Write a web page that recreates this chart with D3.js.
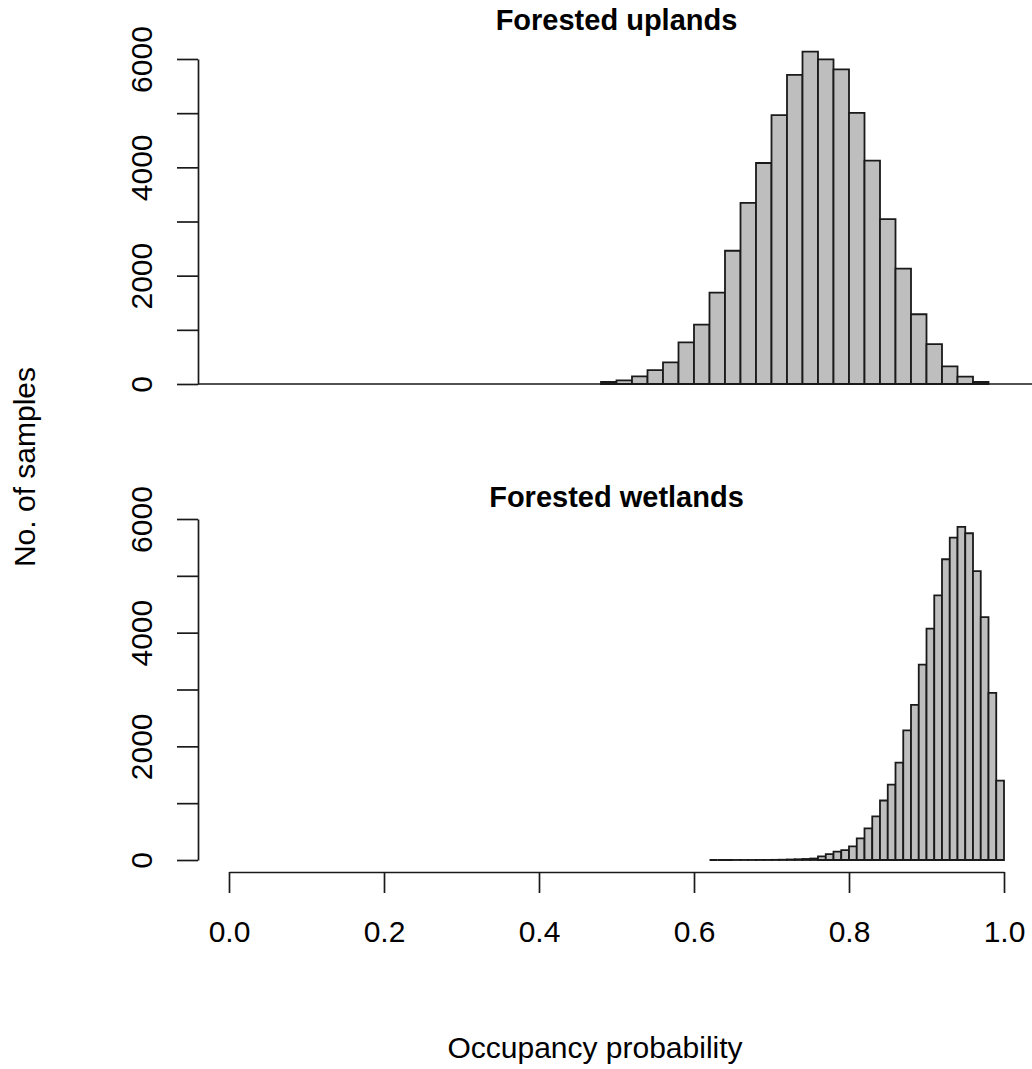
<!DOCTYPE html>
<html>
<head>
<meta charset="utf-8">
<script src="https://cdn.jsdelivr.net/npm/d3@7"></script>
<style>
  body { margin: 0; background: #fff; }
  svg { display: block; font-family: "Liberation Sans", Arial, sans-serif; }
  .axis path, .axis line { stroke: #1a1a1a; stroke-width: 1.7; }
  .axis text { font-size: 30px; fill: #000; }
  .bar { fill: #bebebe; stroke: #1a1a1a; stroke-width: 1.8; }
  .title { font-size: 29px; font-weight: bold; text-anchor: middle; }
  .label { font-size: 30px; text-anchor: middle; }
</style>
</head>
<body>
<svg id="chart" width="1032" height="1069"></svg>
<script>
// Forested uplands: bins of 0.02 from 0.48 to 0.98
const uplandStart = 0.48;
const uplandWidth = 0.02;
const uplandCounts = [37, 67, 141, 258, 399, 767, 1098, 1687, 2460, 3344, 4080, 4963, 5706,
  6135, 5994, 5810, 5006, 4123, 3043, 2129, 1288, 736, 325, 135, 37];

// Forested wetlands: bins of 0.01 from 0.62 to 1.00
const wetlandStart = 0.62;
const wetlandWidth = 0.01;
const wetlandCounts = [0, 0, 0, 1, 1, 1, 2, 2, 3, 5, 9, 13, 18, 26,
  64, 105, 146, 175, 240, 380, 556, 766, 1047, 1327, 1713, 2281, 2731, 3439,
  4070, 4655, 5292, 5673, 5860, 5749, 5082, 4275, 2942, 1398];

const yTicks = [0, 1000, 2000, 3000, 4000, 5000, 6000];
const yLabels = [0, 2000, 4000, 6000];
const xTicks = [0, 0.2, 0.4, 0.6, 0.8, 1.0];

const svg = d3.select("#chart");
const x = d3.scaleLinear().domain([0, 1]).range([229, 1004]);
const axisLeft = 198;

function toBins(start, width, counts) {
  return counts.map((c, i) => ({
    x0: +(start + i * width).toFixed(3),
    x1: +(start + (i + 1) * width).toFixed(3),
    count: c,
  }));
}

function drawPanel(bins, yRange, title, titleY, baseLine) {
  const y = d3.scaleLinear().domain([0, 6000]).range(yRange);
  const g = svg.append("g");

  // horizontal base line (top panel only)
  if (baseLine) {
    g.append("line")
      .attr("x1", axisLeft)
      .attr("x2", 1032)
      .attr("y1", y(0))
      .attr("y2", y(0))
      .attr("stroke", "#1a1a1a")
      .attr("stroke-width", 1.7);
  }

  // bars as closed paths so empty bins still show as a line, like R's rect()
  g.selectAll("path.bar")
    .data(bins)
    .enter()
    .append("path")
    .attr("class", "bar")
    .attr("d", d => {
      const x0 = x(d.x0), x1 = x(d.x1), y0 = y(0), y1 = y(d.count);
      return `M${x0},${y0}H${x1}V${y1}H${x0}Z`;
    });

  // y axis, R style: rotated labels, only some ticks labelled
  const yAxis = g
    .append("g")
    .attr("class", "axis")
    .attr("transform", `translate(${axisLeft},0)`)
    .call(
      d3
        .axisLeft(y)
        .tickValues(yTicks)
        .tickSize(21)
        .tickSizeOuter(0)
        .tickFormat(d => (yLabels.includes(d) ? d : ""))
    );
  yAxis
    .selectAll("text")
    .attr("transform", "rotate(-90)")
    .attr("x", 0)
    .attr("y", -46)
    .attr("dy", 0)
    .attr("text-anchor", "middle");

  svg
    .append("text")
    .attr("class", "title")
    .attr("x", (axisLeft + 1035) / 2)
    .attr("y", titleY)
    .text(title);
}

drawPanel(toBins(uplandStart, uplandWidth, uplandCounts), [384, 59], "Forested uplands", 30, true);
drawPanel(toBins(wetlandStart, wetlandWidth, wetlandCounts), [860, 519], "Forested wetlands", 507, false);

// x axis under the bottom panel
const xAxis = svg
  .append("g")
  .attr("class", "axis")
  .attr("transform", "translate(0,872)")
  .call(
    d3
      .axisBottom(x)
      .tickValues(xTicks)
      .tickSize(21)
      .tickSizeOuter(0)
      .tickFormat(d3.format(".1f"))
  );
xAxis.selectAll("text").attr("y", 70).attr("dy", 0);

// axis labels
svg
  .append("text")
  .attr("class", "label")
  .attr("x", 595)
  .attr("y", 1058)
  .text("Occupancy probability");

svg
  .append("text")
  .attr("class", "label")
  .attr("transform", "translate(35,467) rotate(-90)")
  .text("No. of samples");
</script>
</body>
</html>
